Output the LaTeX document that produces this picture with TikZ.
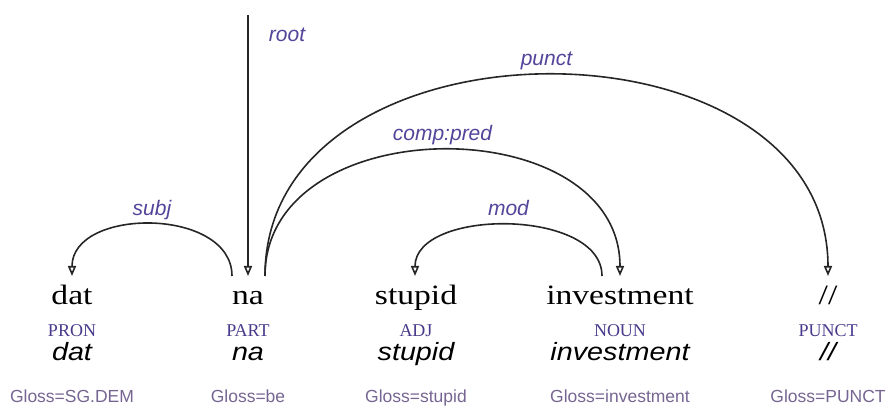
\documentclass[tikz,border=0pt]{standalone}
\usepackage{fontspec}
\setmainfont{Liberation Serif}
\setsansfont{Liberation Sans}
\newfontfamily\wordfont[FakeStretch=1.2]{Liberation Serif}
\newfontfamily\lemmafont[FakeStretch=1.15]{Liberation Sans Italic}
\usetikzlibrary{arrows.meta}
\definecolor{labpurple}{HTML}{54449A}
\definecolor{pospurple}{HTML}{4A3A8C}
\definecolor{glosspurple}{HTML}{766592}
\definecolor{arcgray}{HTML}{262626}

\begin{document}
\begin{tikzpicture}[x=1pt, y=1pt,
    word/.style={anchor=base, inner sep=0pt, font=\wordfont\fontsize{28}{28}\selectfont},
    postag/.style={anchor=base, inner sep=0pt, text=pospurple, font=\fontsize{18}{18}\selectfont},
    lemma/.style={anchor=base, inner sep=0pt, font=\lemmafont\fontsize{25}{25}\selectfont},
    gloss/.style={anchor=base, inner sep=0pt, text=glosspurple, font=\sffamily\fontsize{17.5}{17.5}\selectfont},
    lbl/.style={anchor=base, inner sep=0pt, text=labpurple, font=\sffamily\itshape\fontsize{21}{21}\selectfont},
    dep/.style={draw=arcgray, line width=1.6pt, -{Triangle[open, length=10pt, width=8pt]}}]
    \useasboundingbox (0,0) rectangle (887,407);
    \foreach \x/\n/\w/\p/\g in {72/dat/dat/PRON/SG.DEM, 248/na/na/PART/be,
        416/stupid/stupid/ADJ/stupid, 620/invest/investment/NOUN/investment,
        828/punc/{//}/PUNCT/PUNCT} {
        \node[word] (\n) at (\x,102) {\w};
        \node[postag] (\n-pos) at (\x,70) {\p};
        \node[lemma] (\n-lem) at (\x,46) {\w};
        \node[gloss] (\n-gl) at (\x,4) {Gloss=\g};
    }
    \coordinate (na-top) at (248,392);
    \coordinate (na-in) at (248,131);
    \coordinate (na-l) at (232,131);
    \coordinate (na-r) at (265,131);
    \coordinate (dat-in) at (72,131);
    \coordinate (stupid-in) at (415,131);
    \coordinate (invest-in) at (620,131);
    \coordinate (invest-out) at (602,131);
    \coordinate (punc-in) at (828,131);
    \draw[dep] (na-top) -- (na-in);
    \node[lbl] (root) at (287,365) {root};
    \draw[dep] (na-l) .. controls +(0,69) and +(0,69) .. (dat-in)
        node[lbl, pos=.5, yshift=9pt] (subj) {subj};
    \draw[dep] (invest-out) .. controls +(0,68) and +(0,68) .. (stupid-in)
        node[lbl, pos=.5, yshift=9pt] (mod) {mod};
    \draw[dep] (na-r) .. controls +(0,168) and +(0,168) .. (invest-in)
        node[lbl, pos=.5, yshift=9pt] (comp) {comp:pred};
    \draw[dep] (na-r) .. controls +(0,268) and +(0,268) .. (punc-in)
        node[lbl, pos=.5, yshift=9pt] (punct) {punct};
\end{tikzpicture}
\end{document}
